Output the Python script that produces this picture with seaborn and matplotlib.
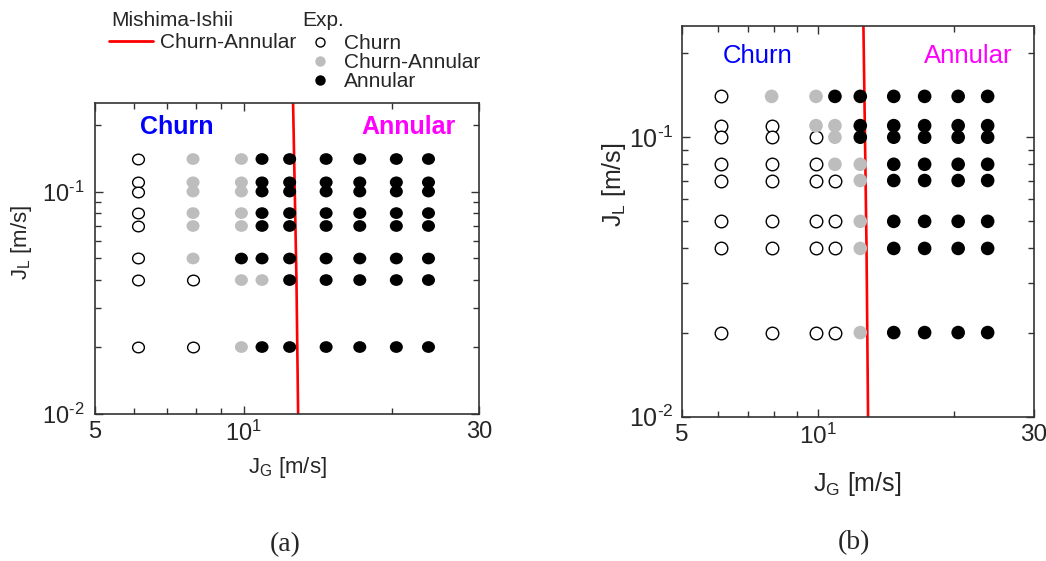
import numpy as np
import pandas as pd
import matplotlib
matplotlib.use("Agg")
import matplotlib.pyplot as plt
import seaborn as sns
from matplotlib.lines import Line2D
from matplotlib.path import Path
from matplotlib.transforms import Affine2D
from matplotlib.ticker import FixedLocator, NullFormatter

# ---------------- data ----------------
jg_cols = [6.1, 7.9, 9.9, 10.9, 12.4, 14.7, 17.2, 20.4, 23.7]
jl_rows = [0.14, 0.11, 0.10, 0.08, 0.07, 0.05, 0.04, 0.02]
# O = Churn, G = Churn-Annular, B = Annular  (one string per JL row, one char per JG column)
regimes_a = ["OGGBBBBBB", "OGGBBBBBB", "OGGBBBBBB", "OGGBBBBBB",
             "OGGBBBBBB", "OGBBBBBBB", "OOGGBBBBB", "OOGBBBBBB"]
regimes_b = ["OGGBBBBBB", "OOGGBBBBB", "OOOGBBBBB", "OOOGGBBBB",
             "OOOOGBBBB", "OOOOGBBBB", "OOOOGBBBB", "OOOOGBBBB"]
line_jg = [12.6, 12.7, 12.8, 12.9]
line_jl = [0.25, 0.10, 0.04, 0.01]
code_names = {"O": "Churn", "G": "Churn-Annular", "B": "Annular"}

x_ticks = [5, 10, 30]
x_ticklabels = ["5", r"$\mathregular{10^{1}}$", "30"]
y_ticks = [0.01, 0.1]
y_ticklabels = ["$\\mathregular{10^{\u20102}}$", "$\\mathregular{10^{\u20101}}$"]


def make_df(regimes):
    recs = []
    for jl, row in zip(jl_rows, regimes):
        for jg, c in zip(jg_cols, row):
            recs.append({"JG": jg, "JL": jl, "regime": code_names[c]})
    return pd.DataFrame(recs)


df_a = make_df(regimes_a)
df_b = make_df(regimes_b)
df_line = pd.DataFrame({"JG": line_jg, "JL": line_jl})

# ---------------- style ----------------
sns.set_style("ticks")
plt.rcParams["font.family"] = ["Liberation Sans", "DejaVu Sans"]
plt.rcParams["mathtext.fontset"] = "custom"
plt.rcParams["mathtext.rm"] = "Liberation Sans"
plt.rcParams["mathtext.it"] = "Liberation Sans"

fig = plt.figure(figsize=(10.46, 5.61), dpi=100)
W, H = 1046, 561
ax_a = fig.add_axes([95 / W, 1 - 414 / H, 384 / W, 311 / H])
ax_b = fig.add_axes([681.7 / W, 1 - 416.7 / H, 352.3 / W, 390.7 / H])

ell_a = Path(Affine2D().scale(1.0, 0.9).transform_path(Path.unit_circle()).vertices,
             Path.unit_circle().codes)


def draw(ax, df, marker, s_fill, s_open, xtick_fs, ytick_fs, ypad, label_fs,
         txt_fs, txt_w, xlab_xy, ylab_xy):
    sns.lineplot(data=df_line, x="JG", y="JL", ax=ax, color="red", lw=1.9,
                 sort=False, estimator=None, zorder=1)
    d = df[df.regime == "Churn"]
    sns.scatterplot(data=d, x="JG", y="JL", ax=ax, marker=marker, s=s_open,
                    color="white", edgecolor="black", linewidth=1.0, zorder=3)
    d = df[df.regime == "Churn-Annular"]
    sns.scatterplot(data=d, x="JG", y="JL", ax=ax, marker=marker, s=s_fill,
                    color="#bdbdbd", edgecolor="none", linewidth=0, zorder=3)
    d = df[df.regime == "Annular"]
    sns.scatterplot(data=d, x="JG", y="JL", ax=ax, marker=marker, s=s_fill,
                    color="black", edgecolor="none", linewidth=0, zorder=3)
    ax.set_xscale("log")
    ax.set_yscale("log")
    ax.set_xlim(5, 30)
    ax.set_ylim(0.01, 0.25)
    ax.xaxis.set_major_locator(FixedLocator(x_ticks))
    ax.set_xticklabels(x_ticklabels)
    ax.xaxis.set_minor_locator(FixedLocator([6, 7, 8, 9, 20]))
    ax.xaxis.set_minor_formatter(NullFormatter())
    ax.yaxis.set_major_locator(FixedLocator(y_ticks))
    ax.set_yticklabels(y_ticklabels)
    ax.yaxis.set_minor_locator(FixedLocator([0.02, 0.03, 0.04, 0.05, 0.06, 0.07,
                                             0.08, 0.09, 0.2]))
    ax.yaxis.set_minor_formatter(NullFormatter())
    ax.tick_params(which="both", direction="in", top=True, right=True,
                   color="#333333", width=1.0)
    ax.tick_params(which="major", length=6)
    ax.tick_params(axis="x", which="major", labelsize=xtick_fs, pad=5)
    ax.tick_params(axis="y", which="major", labelsize=ytick_fs, pad=ypad)
    ax.tick_params(which="minor", length=4)
    for sp in ax.spines.values():
        sp.set_color("#333333")
        sp.set_linewidth(1.2)
    ax.set_xlabel(r"$\mathregular{J_G}$ [m/s]", fontsize=label_fs)
    ax.set_ylabel(r"$\mathregular{J_L}$ [m/s]", fontsize=label_fs)
    ax.xaxis.set_label_coords(*xlab_xy)
    ax.yaxis.set_label_coords(*ylab_xy)
    ax.text(0.117, 0.923, "Churn", transform=ax.transAxes, color="#0000ff",
            fontsize=txt_fs, fontweight=txt_w, ha="left", va="center")
    ax.text(0.94, 0.923, "Annular", transform=ax.transAxes, color="#ff00ff",
            fontsize=txt_fs, fontweight=txt_w, ha="right", va="center")
    leg = ax.get_legend()
    if leg is not None:
        leg.remove()


draw(ax_a, df_a, ell_a, 88, 72, 17, 17, 8, 16, 18, "bold",
     (0.5, -0.132), (-0.16, 0.553))
draw(ax_b, df_b, "o", 96, 82, 17.5, 18, 6, 18, 18.5, "normal",
     (0.4976, -0.136), (-0.152, 0.593))

# ---------------- legends ----------------
fig.text(111 / W, 1 - 20 / H, "Mishima-Ishii", ha="left", va="center", fontsize=15)
fig.text(302 / W, 1 - 20 / H, "Exp.", ha="left", va="center", fontsize=15)
h1 = [Line2D([], [], color="red", lw=2.0)]
leg1 = fig.legend(h1, ["Churn-Annular"], loc="center left",
                  bbox_to_anchor=(109 / W, 1 - 43 / H), frameon=False, fontsize=15,
                  handlelength=2.1, handletextpad=0.35, borderpad=0, borderaxespad=0)
h2 = [Line2D([], [], ls="none", marker="o", ms=6.5, mfc="white", mec="black", mew=1.0),
      Line2D([], [], ls="none", marker="o", ms=7.5, mfc="#bdbdbd", mec="none"),
      Line2D([], [], ls="none", marker="o", ms=7.5, mfc="black", mec="none")]
leg2 = fig.legend(h2, ["Churn", "Churn-Annular", "Annular"],
                  loc="center left", bbox_to_anchor=(301 / W, 1 - 62.5 / H),
                  frameon=False, fontsize=15,
                  handlelength=1.8, handletextpad=0.25, labelspacing=0.0,
                  borderpad=0, borderaxespad=0)

# ---------------- captions ----------------
fig.text(285 / W, 1 - 545 / H, "(a)", ha="center", va="center", fontsize=20,
         family=["Liberation Serif", "DejaVu Serif"])
fig.text(854 / W, 1 - 543 / H, "(b)", ha="center", va="center", fontsize=20,
         family=["Liberation Serif", "DejaVu Serif"])

fig.savefig("out.png", dpi=100)
